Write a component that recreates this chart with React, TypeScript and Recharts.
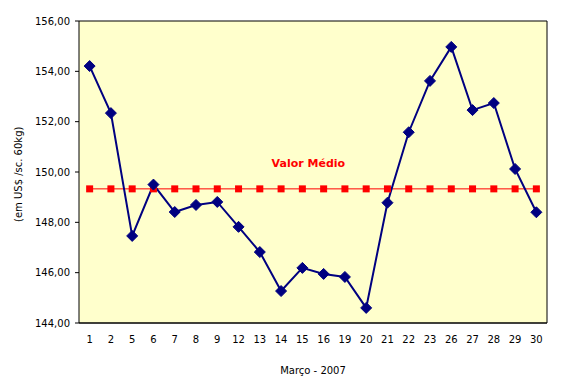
import React from 'react'
import {
  ComposedChart,
  Line,
  XAxis,
  YAxis,
  CartesianGrid,
  ReferenceDot,
} from 'recharts'

const days = ['1', '2', '5', '6', '7', '8', '9', '12', '13', '14', '15', '16', '19', '20', '21', '22', '23', '26', '27', '28', '29', '30']
const prices = [154.21, 152.34, 147.46, 149.5, 148.41, 148.69, 148.81, 147.82, 146.82, 145.27, 146.19, 145.95, 145.83, 144.6, 148.78, 151.58, 153.62, 154.97, 152.46, 152.74, 150.12, 148.4]
const average = [149.33, 149.33, 149.33, 149.33, 149.33, 149.33, 149.33, 149.33, 149.33, 149.33, 149.33, 149.33, 149.33, 149.33, 149.33, 149.33, 149.33, 149.33, 149.33, 149.33, 149.33, 149.33]
const yTicks = [144, 146, 148, 150, 152, 154, 156]
// band boundaries, for the tick marks between days
const bandEdges = days.map((_, i) => i).concat([days.length])

const data = days.map((d, i) => ({ day: d, price: prices[i], avg: average[i] }))

const W = 564
const H = 390
const MARGIN = { top: 21, right: 16, left: 0, bottom: 12 }
const Y_AXIS_W = 79
const PLOT_W = W - MARGIN.left - MARGIN.right - Y_AXIS_W - 1
const HALF_BAND = PLOT_W / days.length / 2
const FONT = '"DejaVu Sans", Verdana, sans-serif'

const fmt = (v: number) => v.toFixed(2).replace('.', ',')

function Diamond(props: any) {
  const { cx, cy } = props
  if (cx == null || cy == null) return null
  const r = 5.5
  return (
    <polygon
      points={`${cx},${cy - r} ${cx + r},${cy} ${cx},${cy + r} ${cx - r},${cy}`}
      fill="#000080"
      stroke="#000080"
    />
  )
}

function Square(props: any) {
  const { cx, cy } = props
  if (cx == null || cy == null) return null
  return <rect x={cx - 3.5} y={cy - 3.5} width={7} height={7} fill="#FF0000" />
}

export default function App() {
  return (
    <div style={{ position: 'absolute', left: 0, top: 0, width: W, height: H, background: '#fff' }}>
      <ComposedChart width={W} height={H} data={data} margin={MARGIN}>
        <CartesianGrid vertical={false} stroke="#000" fill="#FFFFCC" fillOpacity={1} />
        <XAxis
          xAxisId="edges"
          type="number"
          domain={[0, days.length]}
          ticks={bandEdges}
          allowDataOverflow
          height={0}
          tick={false}
          tickSize={5}
          tickLine={{ stroke: '#000' }}
          axisLine={false}
        />
        <XAxis
          dataKey="day"
          height={55}
          interval={0}
          padding={{ left: HALF_BAND, right: HALF_BAND }}
          tickSize={0}
          tickMargin={13}
          tickLine={false}
          axisLine={{ stroke: '#000' }}
          tick={{ fontSize: 10, fontFamily: FONT, fill: '#000' }}
          label={{ value: 'Março - 2007', position: 'insideBottom', offset: 4, fontSize: 10, fontFamily: FONT, fill: '#000' }}
        />
        <YAxis
          yAxisId="left"
          width={Y_AXIS_W}
          domain={[144, 156]}
          ticks={yTicks}
          tickFormatter={fmt}
          tickSize={4}
          tickMargin={5}
          tickLine={{ stroke: '#000' }}
          axisLine={{ stroke: '#000' }}
          tick={{ fontSize: 10, fontFamily: FONT, fill: '#000' }}
          label={{ value: '(em US$ /sc. 60kg)', angle: -90, position: 'insideLeft', offset: 18, fontSize: 10, fontFamily: FONT, fill: '#000', dy: 50 }}
        />
        <YAxis
          yAxisId="right"
          orientation="right"
          width={1}
          domain={[144, 156]}
          tick={false}
          tickLine={false}
          axisLine={{ stroke: '#000' }}
        />
        <Line
          yAxisId="left"
          dataKey="avg"
          stroke="#FF0000"
          strokeWidth={1}
          dot={<Square />}
          activeDot={false}
          isAnimationActive={false}
        />
        <Line
          yAxisId="left"
          dataKey="price"
          stroke="#000080"
          strokeWidth={2}
          dot={<Diamond />}
          activeDot={false}
          isAnimationActive={false}
        />
        <ReferenceDot
          yAxisId="left"
          x="15"
          y={average[10]}
          r={0}
          stroke="none"
          fill="none"
          label={{ value: 'Valor Médio', position: 'top', offset: 22, dx: 6, fill: '#FF0000', fontSize: 11, fontWeight: 'bold', fontFamily: FONT }}
        />
      </ComposedChart>
    </div>
  )
}
